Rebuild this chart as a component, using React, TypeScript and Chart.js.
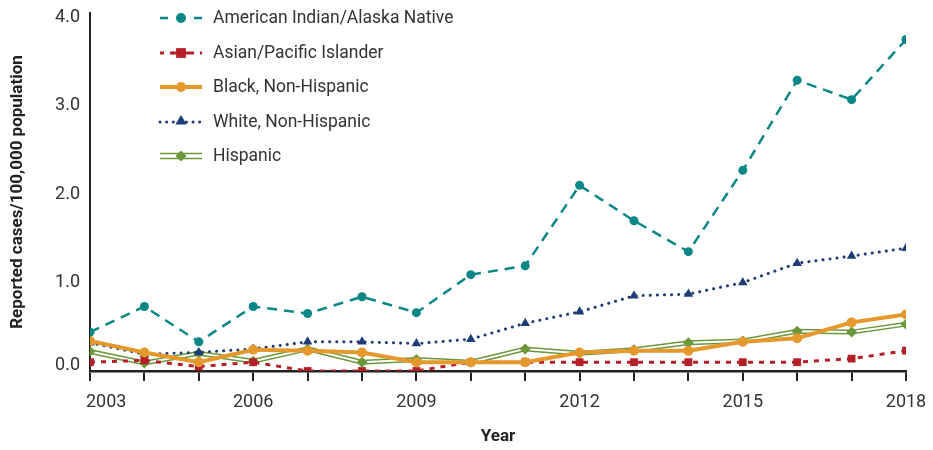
import React, { useEffect, useRef } from 'react';
import { Chart, registerables } from 'chart.js';

Chart.register(...registerables);

// ---------- data ----------
const years = [2003, 2004, 2005, 2006, 2007, 2008, 2009, 2010, 2011, 2012, 2013, 2014, 2015, 2016, 2017, 2018];
const xLabelYears = [2003, 2006, 2009, 2012, 2015, 2018];
const yTickValues = [0, 1, 2, 3, 4];
const seriesNames = [
  'American Indian/Alaska Native',
  'Asian/Pacific Islander',
  'Black, Non-Hispanic',
  'White, Non-Hispanic',
  'Hispanic',
];
const aianValues = [0.44, 0.73, 0.33, 0.73, 0.65, 0.84, 0.66, 1.09, 1.19, 2.1, 1.7, 1.35, 2.27, 3.29, 3.07, 3.75];
const apiValues = [0.1, 0.12, 0.05, 0.1, 0.0, 0.0, 0.0, 0.1, 0.1, 0.1, 0.1, 0.1, 0.1, 0.1, 0.14, 0.23];
const blackValues = [0.34, 0.21, 0.1, 0.24, 0.23, 0.21, 0.1, 0.1, 0.1, 0.21, 0.23, 0.23, 0.33, 0.37, 0.55, 0.64];
const whiteValues = [0.32, 0.19, 0.21, 0.25, 0.33, 0.33, 0.31, 0.36, 0.54, 0.67, 0.85, 0.87, 1.0, 1.22, 1.3, 1.39];
const hispanicValues = [0.22, 0.09, 0.2, 0.11, 0.25, 0.1, 0.13, 0.1, 0.25, 0.2, 0.24, 0.32, 0.34, 0.45, 0.44, 0.53];

// ---------- styles ----------
const FONT = 'Roboto, "Noto Sans", "DejaVu Sans", sans-serif';
const TEXT = '#333333';
const AXIS = '#222222';
const TEAL = '#0a8786';
const RED = '#b51f27';
const ORANGE = '#e5992c';
const NAVY = '#1d3d78';
const GREEN = '#6a983a';
const TICK_SIZE = 18;
const LEGEND_SIZE = 17.5;

const toPoints = (vals: number[]) => years.map((yr, i) => ({ x: yr, y: vals[i] }));

const doubleLinePlugin = {
  id: 'doubleLine',
  beforeDatasetDraw(chart: any, args: any) {
    if (args.index !== 4) return;
    const pts = args.meta.data;
    const ctx = chart.ctx;
    ctx.save();
    ctx.lineJoin = 'miter';
    const path = () => {
      ctx.beginPath();
      pts.forEach((p: any, i: number) => (i === 0 ? ctx.moveTo(p.x, p.y) : ctx.lineTo(p.x, p.y)));
    };
    path();
    ctx.strokeStyle = GREEN;
    ctx.lineWidth = 5;
    ctx.stroke();
    path();
    ctx.strokeStyle = '#ffffff';
    ctx.lineWidth = 2;
    ctx.stroke();
    ctx.restore();
  },
};

function drawMarker(ctx: CanvasRenderingContext2D, kind: string, x: number, y: number, r: number, color: string) {
  ctx.fillStyle = color;
  ctx.beginPath();
  if (kind === 'circle') {
    ctx.arc(x, y, r, 0, Math.PI * 2);
  } else if (kind === 'rect') {
    ctx.rect(x - r * 0.75, y - r * 0.75, r * 1.5, r * 1.5);
  } else if (kind === 'triangle') {
    ctx.moveTo(x, y - r);
    ctx.lineTo(x + r * 0.95, y + r * 0.6);
    ctx.lineTo(x - r * 0.95, y + r * 0.6);
    ctx.closePath();
  } else if (kind === 'diamond') {
    ctx.moveTo(x, y - r);
    ctx.lineTo(x + r, y);
    ctx.lineTo(x, y + r);
    ctx.lineTo(x - r, y);
    ctx.closePath();
  }
  ctx.fill();
}

const legendPlugin = {
  id: 'customLegend',
  afterDraw(chart: any) {
    const ctx: CanvasRenderingContext2D = chart.ctx;
    const rows = [18, 53, 87, 122, 156];
    const x0 = 160;
    const x1 = 202;
    const xm = 181;
    const tx = 213;
    ctx.save();
    // teal
    let y = rows[0];
    ctx.strokeStyle = TEAL;
    ctx.lineWidth = 2.5;
    ctx.beginPath();
    ctx.moveTo(x0, y);
    ctx.lineTo(x0 + 8, y);
    ctx.moveTo(x1 - 8, y);
    ctx.lineTo(x1, y);
    ctx.stroke();
    drawMarker(ctx, 'circle', xm, y, 5, TEAL);
    // red
    y = rows[1];
    ctx.strokeStyle = RED;
    ctx.lineWidth = 3;
    ctx.setLineDash([4, 6]);
    ctx.beginPath();
    ctx.moveTo(x0, y);
    ctx.lineTo(x1, y);
    ctx.stroke();
    ctx.setLineDash([]);
    ctx.beginPath();
    ctx.moveTo(xm - 9, y);
    ctx.lineTo(xm + 9, y);
    ctx.stroke();
    drawMarker(ctx, 'rect', xm, y, 6.5, RED);
    // orange
    y = rows[2];
    ctx.strokeStyle = ORANGE;
    ctx.lineWidth = 4;
    ctx.beginPath();
    ctx.moveTo(x0, y);
    ctx.lineTo(x1, y);
    ctx.stroke();
    drawMarker(ctx, 'circle', xm, y, 5, ORANGE);
    // navy
    y = rows[3];
    ctx.strokeStyle = NAVY;
    ctx.lineWidth = 3;
    ctx.lineCap = 'round';
    ctx.setLineDash([0.1, 6.5]);
    ctx.beginPath();
    ctx.moveTo(x0, y);
    ctx.lineTo(x1, y);
    ctx.stroke();
    ctx.setLineDash([]);
    ctx.lineCap = 'butt';
    drawMarker(ctx, 'triangle', xm, y - 1, 6, NAVY);
    // green
    y = rows[4];
    ctx.strokeStyle = GREEN;
    ctx.lineWidth = 1.6;
    ctx.beginPath();
    ctx.moveTo(x0, y - 2.5);
    ctx.lineTo(x1, y - 2.5);
    ctx.moveTo(x0, y + 2.5);
    ctx.lineTo(x1, y + 2.5);
    ctx.stroke();
    drawMarker(ctx, 'diamond', xm, y, 5.5, GREEN);
    // texts
    ctx.fillStyle = TEXT;
    ctx.font = `${LEGEND_SIZE}px ${FONT}`;
    ctx.textAlign = 'left';
    ctx.textBaseline = 'middle';
    seriesNames.forEach((n, i) => ctx.fillText(n, tx, rows[i] + 1));
    ctx.restore();
  },
};

const specialLabelsPlugin = {
  id: 'specialLabels',
  afterDraw(chart: any) {
    const ctx: CanvasRenderingContext2D = chart.ctx;
    const xs = chart.scales.x;
    const ys = chart.scales.y;
    ctx.save();
    ctx.fillStyle = TEXT;
    ctx.font = `${TICK_SIZE}px ${FONT}`;
    ctx.textBaseline = 'middle';
    // first x label kept inside the plot's left edge
    const ly = xs.top + 10 + 11 + TICK_SIZE * 0.6;
    ctx.textAlign = 'left';
    ctx.fillText(String(xLabelYears[0]), xs.getPixelForValue(xLabelYears[0]) - 4, ly);
    // 0.0 label sits just above the x axis line
    ctx.textAlign = 'right';
    ctx.fillText(yTickValues[0].toFixed(1), ys.right - 10, ys.getPixelForValue(yTickValues[0]) - 6);
    ctx.restore();
  },
};

export default function App() {
  const ref = useRef<HTMLCanvasElement | null>(null);

  useEffect(() => {
    document.body.style.margin = '0';
    if (!ref.current) return;
    const chart = new Chart(ref.current, {
      type: 'line',
      data: {
        datasets: [
          {
            label: seriesNames[0],
            data: toPoints(aianValues),
            borderColor: TEAL,
            backgroundColor: TEAL,
            borderWidth: 2.5,
            borderDash: [10, 7],
            pointStyle: 'circle',
            pointRadius: 4.5,
            pointBorderWidth: 0,
            order: 0,
          },
          {
            label: seriesNames[1],
            data: toPoints(apiValues),
            borderColor: RED,
            backgroundColor: RED,
            borderWidth: 3,
            borderDash: [5, 6],
            pointStyle: 'rect',
            pointRadius: 5.5,
            pointBorderWidth: 0,
            order: 2,
          },
          {
            label: seriesNames[2],
            data: toPoints(blackValues),
            borderColor: ORANGE,
            backgroundColor: ORANGE,
            borderWidth: 4,
            pointStyle: 'circle',
            pointRadius: 5,
            pointBorderWidth: 0,
            order: 1,
          },
          {
            label: seriesNames[3],
            data: toPoints(whiteValues),
            borderColor: NAVY,
            backgroundColor: NAVY,
            borderWidth: 3,
            borderDash: [0.1, 7],
            borderCapStyle: 'round',
            pointStyle: 'triangle',
            pointRadius: 5.5,
            pointBorderWidth: 0,
            order: 3,
          },
          {
            label: seriesNames[4],
            data: toPoints(hispanicValues),
            borderColor: GREEN,
            backgroundColor: GREEN,
            showLine: false,
            pointStyle: 'rectRot',
            pointRadius: 5.5,
            pointBorderWidth: 0,
            order: 4,
          },
        ],
      },
      options: {
        animation: false,
        responsive: true,
        maintainAspectRatio: false,
        layout: { padding: { top: 13, right: 27, left: 0, bottom: 0 } },
        plugins: {
          legend: { display: false },
          tooltip: { enabled: false },
        },
        scales: {
          x: {
            type: 'linear',
            min: years[0],
            max: years[years.length - 1],
            afterBuildTicks: (s: any) => {
              s.ticks = years.map((v) => ({ value: v }));
            },
            afterFit: (s: any) => {
              s.height = 79;
              s.paddingLeft = 0;
              s.paddingRight = 0;
            },
            grid: {
              display: true,
              drawOnChartArea: false,
              drawTicks: true,
              tickLength: 10,
              color: AXIS,
              lineWidth: 2,
            },
            border: { display: true, color: AXIS, width: 2.5 },
            ticks: {
              autoSkip: false,
              maxRotation: 0,
              padding: 11,
              font: { family: FONT, size: TICK_SIZE },
              color: (c: any) => (c.tick && c.tick.value === xLabelYears[0] ? 'rgba(0,0,0,0)' : TEXT),
              callback: (v: any) => (xLabelYears.includes(Number(v)) ? String(v) : ''),
            },
            title: {
              display: true,
              text: 'Year',
              color: AXIS,
              font: { family: FONT, size: 17, weight: 'bold' },
              padding: { top: 0, bottom: 3 },
            },
          },
          y: {
            type: 'linear',
            min: 0,
            max: 4.05,
            afterBuildTicks: (s: any) => {
              s.ticks = yTickValues.map((v) => ({ value: v }));
            },
            afterFit: (s: any) => {
              s.width = 90;
              s.paddingTop = 0;
              s.paddingBottom = 0;
            },
            grid: { display: false, drawTicks: false },
            border: { display: true, color: AXIS, width: 2 },
            ticks: {
              padding: 10,
              font: { family: FONT, size: TICK_SIZE },
              color: (c: any) => (c.tick && c.tick.value === yTickValues[0] ? 'rgba(0,0,0,0)' : TEXT),
              callback: (v: any) => Number(v).toFixed(1),
            },
            title: {
              display: true,
              text: 'Reported cases/100,000 population',
              color: AXIS,
              font: { family: FONT, size: 17, weight: 'bold' },
              padding: { top: 8, bottom: 0 },
            },
          },
        },
      } as any,
      plugins: [doubleLinePlugin, legendPlugin, specialLabelsPlugin],
    });
    return () => chart.destroy();
  }, []);

  return (
    <div style={{ position: 'relative', width: 933, height: 450, background: '#ffffff' }}>
      <canvas ref={ref} />
    </div>
  );
}
